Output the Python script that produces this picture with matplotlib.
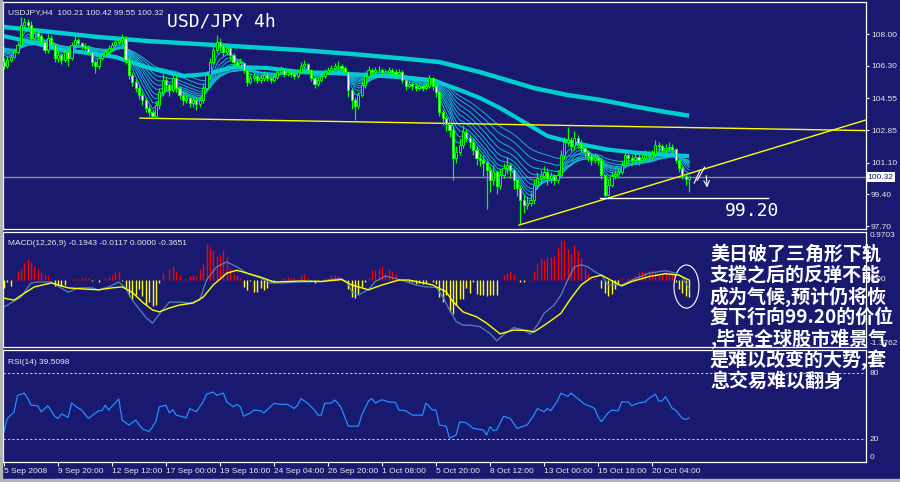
# plot.py
"""
USD/JPY H4 chart in MT4 style: candles with EMA ribbon, MACD and RSI panels.
"""

import numpy as np
import pandas as pd
import matplotlib
matplotlib.use("Agg")
import matplotlib.pyplot as plt
from matplotlib.patches import Ellipse, Rectangle
from matplotlib.transforms import blended_transform_factory

# ---- 4h bars, 5 Sep 2008 08:00 ... 22 Oct 2008 ----
open_first = 106.50
close = [
    106.28, 106.61, 106.77, 107.03, 107.41, 108.48, 108.64, 108.48, 107.79, 108.05, 107.89, 107.57,
    107.14, 107.79, 107.41, 106.71, 106.87, 106.61, 107.03, 106.71, 107.41, 107.68, 107.52, 107.36,
    107.25, 107.03, 106.50, 106.28, 106.71, 106.87, 107.03, 107.25, 107.41, 107.57, 107.68, 107.79,
    106.61, 105.80, 105.42, 105.10, 104.73, 104.46, 104.03, 103.82, 103.60, 104.19, 104.89, 105.53,
    105.26, 105.00, 105.64, 105.10, 104.73, 104.46, 104.57, 104.30, 104.46, 104.24, 104.46, 105.10,
    105.80, 106.50, 107.14, 107.57, 107.36, 107.03, 107.25, 106.87, 106.50, 106.34, 106.44, 106.07,
    105.42, 105.64, 105.75, 105.53, 105.64, 105.80, 105.64, 105.53, 105.69, 105.96, 106.07, 105.85,
    105.96, 105.85, 105.75, 105.96, 106.28, 106.39, 106.07, 105.64, 105.32, 105.53, 105.75, 105.96,
    106.07, 106.18, 106.28, 106.28, 106.18, 105.96, 105.00, 104.46, 104.14, 104.73, 105.26, 105.75,
    106.07, 105.96, 106.07, 106.07, 105.96, 105.96, 106.07, 105.96, 105.85, 105.96, 105.53, 105.21,
    105.32, 105.21, 105.10, 105.21, 105.10, 105.21, 105.64, 105.21, 104.89, 103.82, 103.49, 103.17,
    102.85, 101.35, 101.67, 102.04, 102.74, 102.42, 102.20, 101.78, 101.35, 101.24, 101.08, 100.70,
    100.17, 100.60, 99.85, 100.44, 100.81, 100.97, 100.70, 100.17, 99.74, 99.09, 98.83, 98.93,
    99.09, 99.90, 100.28, 100.38, 100.60, 100.28, 100.38, 100.17, 100.44, 101.51, 102.20, 102.31,
    101.99, 102.42, 102.15, 101.88, 101.67, 101.45, 101.24, 101.35, 101.24, 100.44, 99.36, 99.90,
    100.38, 100.49, 100.60, 100.97, 101.51, 101.35, 101.24, 101.40, 101.24, 101.35, 101.51, 101.45,
    101.56, 102.04, 101.99, 101.78, 101.88, 101.94, 101.83, 101.24, 100.81, 100.38, 100.21, 100.32,
]
high = [
    106.7, 106.8, 106.95, 107.2, 107.6, 108.9, 108.85, 108.8, 108.7, 108.3, 108.2, 108.0,
    107.7, 108.0, 107.95, 107.5, 107.1, 107.0, 107.2, 107.1, 107.6, 107.9, 107.8, 107.6,
    107.5, 107.4, 107.1, 106.6, 106.9, 107.0, 107.2, 107.4, 107.55, 107.7, 107.85, 108.0,
    107.9, 106.8, 105.95, 105.6, 105.3, 104.9, 104.6, 104.2, 104.0, 104.4, 105.1, 105.9,
    105.7, 105.4, 105.9, 105.8, 105.2, 104.9, 104.8, 104.7, 104.6, 104.6, 104.7, 105.3,
    106.0, 106.7, 107.4, 107.95, 107.8, 107.5, 107.5, 107.3, 107.0, 106.6, 106.7, 106.5,
    106.3, 105.8, 105.9, 105.85, 105.8, 106.0, 105.9, 105.75, 105.85, 106.15, 106.3, 106.15,
    106.1, 106.05, 105.95, 106.1, 106.5, 106.6, 106.45, 106.15, 105.75, 105.7, 105.9, 106.1,
    106.25, 106.35, 106.45, 106.55, 106.4, 106.3, 106.0, 105.1, 104.6, 104.9, 105.5, 106.0,
    106.3, 106.2, 106.25, 106.3, 106.2, 106.15, 106.25, 106.2, 106.1, 106.15, 106.05, 105.6,
    105.5, 105.45, 105.35, 105.4, 105.3, 105.4, 105.8, 105.7, 105.3, 104.95, 104.0, 103.6,
    103.3, 103.1, 102.0, 102.4, 103.1, 102.9, 102.6, 102.4, 102.0, 101.6, 101.5, 101.2,
    100.9, 101.0, 100.7, 100.8, 101.1, 101.4, 101.1, 100.8, 100.3, 99.9, 99.4, 99.3,
    99.5, 100.2, 100.6, 100.7, 100.9, 100.8, 100.6, 100.5, 100.7, 101.8, 102.5, 103.0,
    102.5, 102.8, 102.6, 102.3, 102.0, 101.8, 101.6, 101.6, 101.5, 101.4, 100.5, 100.2,
    100.6, 100.7, 100.8, 101.2, 101.7, 101.6, 101.5, 101.6, 101.55, 101.6, 101.8, 101.7,
    101.8, 102.3, 102.2, 102.1, 102.1, 102.2, 102.1, 101.9, 101.3, 100.9, 100.5, 100.42,
]
low = [
    106.1, 106.2, 106.5, 106.7, 106.95, 107.3, 108.3, 108.3, 107.6, 107.7, 107.7, 107.4,
    107.0, 107.0, 107.2, 106.5, 106.5, 106.4, 106.5, 106.3, 106.6, 107.3, 107.4, 107.2,
    107.1, 106.9, 106.3, 105.9, 106.1, 106.6, 106.8, 106.9, 107.1, 107.3, 107.45, 107.5,
    106.4, 105.6, 105.2, 104.9, 104.5, 104.2, 103.8, 103.6, 103.45, 103.5, 104.0, 104.7,
    105.0, 104.7, 104.9, 104.9, 104.5, 104.2, 104.3, 104.1, 104.1, 103.9, 104.1, 104.3,
    105.0, 105.6, 106.4, 107.0, 107.1, 106.8, 106.9, 106.6, 106.3, 106.1, 106.2, 105.9,
    105.2, 105.3, 105.5, 105.4, 105.4, 105.5, 105.5, 105.35, 105.45, 105.6, 105.9, 105.7,
    105.75, 105.7, 105.6, 105.65, 105.9, 106.2, 105.9, 105.5, 105.1, 105.2, 105.45, 105.65,
    105.85, 105.95, 106.05, 106.1, 106.0, 105.8, 104.6, 104.0, 103.4, 104.0, 104.6, 105.1,
    105.6, 105.8, 105.85, 105.9, 105.8, 105.8, 105.85, 105.8, 105.7, 105.75, 105.35, 105.0,
    105.1, 105.0, 104.95, 105.0, 104.95, 105.0, 105.1, 105.0, 104.6, 103.6, 103.1, 102.8,
    102.5, 100.17, 101.1, 101.5, 101.9, 102.2, 101.9, 101.5, 101.0, 100.9, 100.4, 98.6,
    99.5, 99.9, 99.4, 99.7, 100.3, 100.5, 100.3, 99.7, 99.3, 97.8, 98.4, 98.6,
    98.8, 98.9, 99.7, 100.0, 100.2, 99.9, 100.0, 99.9, 100.0, 100.3, 101.3, 102.0,
    101.7, 101.8, 101.9, 101.6, 101.4, 101.2, 101.0, 101.1, 101.0, 100.2, 99.25, 99.3,
    99.8, 100.2, 100.3, 100.5, 100.9, 101.1, 101.0, 101.1, 101.0, 101.1, 101.2, 101.2,
    101.3, 101.4, 101.7, 101.6, 101.6, 101.7, 101.6, 101.1, 100.6, 100.2, 99.9, 99.55,
]

# slow and medium moving averages
slow_ma_bar = [0, 14, 28, 43, 58, 73, 88, 103, 117, 129, 135, 141, 147, 157, 167, 177, 186, 196, 203]
slow_ma = [108.38, 108.11, 107.84, 107.62, 107.46, 107.30, 107.14, 106.93, 106.71, 106.50,
           106.23, 105.96, 105.64, 105.10, 104.73, 104.46, 104.14, 103.82, 103.62]
mid_ma_bar = [0, 8, 17, 23, 33, 43, 53, 60, 68, 78, 88, 97, 108, 117, 127, 135, 141, 147,
              153, 161, 169, 179, 188, 203]
mid_ma = [107.89, 107.57, 107.14, 107.03, 106.77, 106.18, 105.75, 105.85, 106.23, 106.18,
          105.96, 105.91, 105.80, 105.69, 105.53, 105.00, 104.57, 104.03, 103.39, 102.53,
          102.15, 101.80, 101.62, 101.45]
ribbon_start = 107.3
ribbon_periods = [4, 6, 8, 10, 13, 16, 20, 25, 32, 40]

# hand-drawn trend lines
flat_line_bar = [40.3, 255.4]
flat_line = [103.49, 102.82]
rise_line_bar = [152.6, 255.4]
rise_line = [97.75, 103.39]
target_bar = [176.6, 226.4]
target = 99.20

price_ticks = [108.00, 106.30, 104.55, 102.85, 101.10, 99.40, 97.70]

# MACD(12,26,9): histogram per bar, lines read at break points
macd_hist = [
    -0.17, -0.04, -0.13, 0.02, 0.18, 0.22, 0.34, 0.41, 0.36, 0.28, 0.22, 0.15, 0.10, 0.09, 0.02, -0.13,
    -0.11, -0.13, -0.11, 0.0, 0.02, 0.02, 0.02, 0.03, 0.03, 0.04, -0.03, 0.02, -0.04, 0.0, 0.04, 0.06,
    0.09, 0.15, 0.18, -0.02, -0.2, -0.34, -0.4, -0.31, -0.2, -0.34, -0.51, -0.45, -0.53, -0.51, -0.07, 0.13,
    0.0, 0.22, 0.27, 0.18, 0.09, 0.0, 0.02, 0.07, 0.09, 0.07, 0.22, 0.32, 0.73, 0.66, 0.6, 0.49,
    0.5, 0.6, 0.46, 0.24, 0.12, 0.09, 0.03, -0.15, -0.22, -0.02, -0.25, -0.25, -0.18, -0.22, -0.18, -0.05,
    -0.04, 0.0, 0.02, 0.04, 0.05, 0.03, 0.04, 0.02,
    0.09, 0.11, 0.04, -0.02, -0.07, -0.03, 0.0, 0.03, 0.04, 0.09, 0.09, 0.07, 0.02, -0.03, -0.2, -0.36,
    -0.37, -0.29, -0.16, -0.05, 0.04, 0.2, 0.2, 0.24, 0.27, 0.13, 0.22, 0.18, 0.12, 0.02, 0.0, -0.03,
    -0.06, -0.04, -0.09, -0.07, -0.09, -0.07, 0.0, -0.05, -0.09, -0.36, -0.45, -0.31, -0.67, -0.71, -0.51, -0.4,
    -0.4, -0.18, -0.27, -0.04, -0.29, -0.31, -0.31, -0.33, -0.31, -0.31, -0.31, 0.0, 0.09, 0.13, 0.18, 0.11,
    0.0, -0.04, -0.04, 0.0, 0.02, 0.18, 0.33, 0.43, 0.4, 0.45, 0.45, 0.48, 0.66, 0.8, 0.8, 0.62,
    0.53, 0.71, 0.6, 0.43, 0.25, 0.12, 0.04, 0.04, 0.0, -0.18, -0.27, -0.33, -0.29, -0.2, -0.07, 0.03,
    0.0, 0.04, 0.04, 0.09, 0.15, 0.18, 0.15, 0.18, 0.2, 0.18, 0.09, 0.12, 0.15, 0.12, 0.09, -0.04,
    -0.2, -0.27, -0.33, -0.3651,
]
macd_bar = [0, 5, 8, 10, 14, 19, 22, 26, 28, 31, 34, 36, 38, 42, 44, 47, 49, 52, 55, 58,
            60, 63, 66, 69, 72, 76, 79, 82, 88, 94, 97, 100, 102, 103, 105, 108, 110, 113, 116, 119,
            122, 125, 128, 130, 132, 134, 136, 138, 141, 144, 146, 148, 151, 154, 156, 158, 160, 163, 165, 167,
            169, 171, 173, 175, 177, 179, 183, 186, 191, 196, 199, 201, 203]
macd_val = [-0.56, -0.36, -0.07, -0.05, -0.05, -0.26, -0.17, -0.17, -0.21, -0.15,
            -0.05, -0.17, -0.42, -0.77, -0.89, -0.62, -0.46, -0.46, -0.48, -0.42,
            -0.01, 0.26, 0.36, 0.26, 0.13, 0.03, -0.07, -0.07, -0.05, -0.04,
            0.0, 0.02, -0.08, -0.25, -0.32, -0.2, -0.04, 0.07, 0.02, -0.04,
            -0.11, -0.15, -0.16, -0.35, -0.62, -0.86, -0.93, -0.93, -0.96, -1.1,
            -1.25, -1.13, -0.98, -1.03, -1.11, -0.93, -0.69, -0.52, -0.32, -0.01,
            0.26, 0.3, 0.26, 0.16, 0.09, -0.11, -0.11, -0.01, 0.13, 0.18,
            0.13, 0.05, -0.1943]
sig_bar = [0, 3, 6, 9, 14, 19, 23, 28, 32, 35, 38, 41, 44, 46, 49, 52, 56, 59, 62, 66,
           69, 72, 76, 80, 88, 94, 100, 103, 108, 112, 117, 120, 127, 131, 133, 136, 140, 143, 147, 151,
           155, 157, 161, 165, 168, 171, 174, 177, 183, 186, 191, 196, 200, 202, 203]
sig_val = [-0.38, -0.42, -0.28, -0.15, -0.07, -0.17, -0.19, -0.21, -0.17, -0.15,
           -0.26, -0.46, -0.62, -0.66, -0.58, -0.52, -0.48, -0.36, -0.11, 0.13,
           0.19, 0.13, 0.05, -0.05, -0.03, -0.04, 0.0, -0.11, -0.21, -0.11,
           -0.01, -0.01, -0.11, -0.25, -0.45, -0.66, -0.76, -0.89, -1.11, -1.03,
           -1.04, -1.07, -0.89, -0.69, -0.38, -0.11, 0.04, 0.09, -0.13, -0.04,
           0.06, 0.12, 0.09, 0.02, -0.0117]
macd_top, macd_bottom = 0.9703, -1.3762

# RSI(14)
rsi_bar = [0, 1, 3, 4, 6, 7, 8, 10, 11, 13, 15, 16,
           17, 19, 20, 22, 23, 25, 28, 29, 30, 31, 34, 35,
           37, 39, 41, 43, 45, 46, 48, 49, 50, 51, 54, 55,
           57, 59, 60, 62, 63, 65, 66, 68, 69, 70, 71, 73,
           74, 76, 77, 80, 82, 84, 86, 87, 88, 90, 92, 93,
           94, 95, 97, 98, 99, 100, 102, 105, 106, 108, 109, 110,
           112, 114, 116, 117, 119, 121, 124, 125, 127, 128, 129, 131,
           132, 134, 135, 137, 139, 142, 143, 144, 145, 146, 148, 150,
           152, 154, 155, 157, 158, 160, 161, 162, 164, 165, 167, 168,
           170, 172, 174, 175, 176, 177, 179, 180, 182, 183, 185, 186,
           188, 190, 191, 193, 194, 195, 196, 198, 199, 201, 202, 203]
rsi_val = [27, 39, 45, 60, 62, 57.5, 51, 50.5, 45, 50.5, 41, 39,
           43, 40, 53, 48.5, 46.6, 39, 46, 46, 51, 46.6, 56.6, 37.5,
           33, 37.5, 29.4, 27, 36, 49.6, 51, 44, 47, 42, 39.6, 48,
           45, 54, 61, 63, 60, 62, 54, 49.6, 51.8, 49.6, 41, 44,
           46.6, 46, 44, 52.7, 51.8, 51.8, 48, 51, 57, 52.7, 46.6, 42,
           42, 52.7, 53, 55.7, 52.7, 48, 32, 32, 42, 55, 57, 53,
           56, 54, 53.6, 46.6, 46, 42, 42, 53, 46.6, 46.6, 33, 32,
           21, 24, 36, 35, 30, 28.5, 24, 31.5, 27.8, 28.5, 41, 39,
           30, 32, 33, 42, 48, 45, 48, 46, 55, 62, 59, 62,
           57, 52, 49.6, 48, 40.5, 36, 44, 46.6, 46, 54, 54, 50.5,
           53, 54, 57, 61, 54.8, 55, 58.7, 48, 46.6, 39, 38, 39.5098]

time_tick_bar = [0, 16, 32, 48, 64, 80, 96, 112, 128, 144, 160, 176, 192]
time_tick_labels = ['5 Sep 2008', '9 Sep 20:00', '12 Sep 12:00', '17 Sep 00:00', '19 Sep 16:00',
                    '24 Sep 04:00', '26 Sep 20:00', '1 Oct 08:00', '5 Oct 20:00', '8 Oct 12:00',
                    '13 Oct 00:00', '15 Oct 16:00', '20 Oct 04:00']

note_lines = ['美日破了三角形下轨', '支撑之后的反弹不能', '成为气候,预计仍将恢',
              '复下行向99.20的价位', ',毕竟全球股市难景气', '是难以改变的大势,套',
              '息交易难以翻身']


def main():
    BG = '#191970'
    LIME = '#00ff00'
    CYAN = '#00ced1'
    TXT = '#e8e8e8'
    plt.rcParams['font.family'] = ['Liberation Sans', 'DejaVu Sans']

    W, H = 900, 482
    fig = plt.figure(figsize=(W / 100, H / 100), dpi=100, facecolor=BG)

    def rect(top, bottom):  # pixel rows -> figure rect
        return [3 / W, 1 - bottom / H, 863 / W, (bottom - top) / H]

    ax = fig.add_axes(rect(2, 229))
    axm = fig.add_axes(rect(232, 347), sharex=ax)
    axr = fig.add_axes(rect(350, 462), sharex=ax)

    for a in (ax, axm, axr):
        a.set_facecolor(BG)
        for s in a.spines.values():
            s.set_color('white')
            s.set_linewidth(0.9)
        a.tick_params(left=False, labelleft=False, bottom=False, labelbottom=False)
    ax.set_xlim(-0.3, 255.4)

    # ---- price panel ----
    x = np.arange(len(close))
    c = np.array(close)
    o = np.r_[open_first, c[:-1]]
    up = c >= o

    for p in ribbon_periods:
        ema = pd.Series(np.r_[ribbon_start, c]).ewm(span=p, adjust=False).mean().to_numpy()[1:]
        ax.plot(x, ema, color='#17b3d3', lw=0.7, zorder=2)
    ax.plot(mid_ma_bar, mid_ma, color=CYAN, lw=3.0, zorder=2, solid_capstyle='butt')
    ax.plot(slow_ma_bar, slow_ma, color=CYAN, lw=3.2, zorder=2, solid_capstyle='butt')

    ax.vlines(x, low, high, colors=LIME, lw=0.9, zorder=4)
    ax.bar(x, np.abs(c - o), bottom=np.minimum(o, c), width=0.62,
           color=np.where(up, BG, 'white'), edgecolor=LIME, linewidth=0.7, zorder=5)

    ax.axhline(c[-1], color='#8c8c8c', lw=1.0, zorder=1)
    ax.plot(flat_line_bar, flat_line, color='yellow', lw=1.0, zorder=3)
    ax.plot(rise_line_bar, rise_line, color='yellow', lw=1.0, zorder=3)
    ax.plot(target_bar, [target, target], color='white', lw=1.0, zorder=3)
    ax.text(221.6, 98.5, f'{target:.2f}', color='white', family='DejaVu Sans Mono',
            fontsize=13, ha='center', va='center')

    # small hand-drawn strokes and down arrow after the last bar
    ax.plot([204.5, 206.2], [100.0, 100.67], color='white', lw=0.8, zorder=6)
    ax.plot([205.4, 207.6], [100.15, 100.86], color='white', lw=0.8, zorder=6)
    ax.annotate('', xy=(208.4, 99.62), xytext=(208.0, 100.55),
                arrowprops=dict(arrowstyle='->', color='white', lw=0.8))

    ax.set_ylim(97.54, 109.72)
    ax.yaxis.tick_right()
    ax.tick_params(axis='y', right=True, labelright=True, colors='white', labelcolor=TXT,
                   labelsize=6, length=2, width=0.8, pad=1.5)
    ax.set_yticks(price_ticks, [f'{v:.2f}' for v in price_ticks])
    ytr = blended_transform_factory(ax.transAxes, ax.transData)
    ax.text(1.002, c[-1], f'{c[-1]:.2f}', transform=ytr, ha='left', va='center',
            fontsize=6, color=BG, zorder=10,
            bbox=dict(boxstyle='square,pad=0.2', fc='white', ec='none'))

    # ---- MACD panel ----
    hist = np.array(macd_hist)
    axm.vlines(x, 0, hist, colors=np.where(hist >= 0, '#ff0000', '#ffff00'), lw=1.0)
    axm.plot(macd_bar, macd_val, color='#4f86b8', lw=0.9)
    axm.plot(sig_bar, sig_val, color='#ffff00', lw=1.0)
    axm.add_patch(Ellipse((202.2, -0.143), width=7.4, height=0.88, fill=False,
                          ec='white', lw=0.8))
    axm.set_ylim(macd_bottom, macd_top)
    axm.set_yticks([])
    mtr = blended_transform_factory(axm.transAxes, axm.transData)
    axm.text(1.004, macd_top, f'{macd_top:.4f}', transform=mtr, va='top', fontsize=6, color=TXT)
    axm.text(1.004, 0, '0.00', transform=mtr, va='center', fontsize=6, color=TXT)
    axm.text(1.004, macd_bottom, f'{macd_bottom:.4f}', transform=mtr, va='bottom',
             fontsize=6, color=TXT)

    # ---- RSI panel ----
    axr.plot(rsi_bar, rsi_val, color='#1e90ff', lw=0.9)
    for lvl in (80, 20):
        axr.axhline(lvl, color='#c8c8c8', lw=0.8, ls=(0, (2, 2)))
    axr.set_ylim(-0.6, 101.2)
    axr.set_yticks([])
    rtr = blended_transform_factory(axr.transAxes, axr.transData)
    axr.text(1.004, 100, '100', transform=rtr, va='top', fontsize=6, color=TXT)
    axr.text(1.004, 80, '80', transform=rtr, va='center', fontsize=6, color=TXT)
    axr.text(1.004, 20, '20', transform=rtr, va='center', fontsize=6, color=TXT)
    axr.text(1.004, 0, '0', transform=rtr, va='bottom', fontsize=6, color=TXT)

    axr.tick_params(axis='x', bottom=True, labelbottom=True, colors='white', labelcolor=TXT,
                    labelsize=6, length=3, width=0.8, pad=1.5)
    axr.set_xticks(time_tick_bar, time_tick_labels, ha='left')

    # ---- header texts ----
    fig.text(8 / W, 1 - 14.5 / H,
             f'USDJPY,H4  {o[-1]:.2f} {high[-1]:.2f} {low[-1]:.2f} {c[-1]:.2f}',
             fontsize=6, color=TXT, va='baseline')
    fig.text(167 / W, 1 - 27 / H, 'USD/JPY 4h', family='DejaVu Sans Mono', fontsize=13,
             color='white', va='baseline')
    fig.text(8 / W, 1 - 245.5 / H,
             f'MACD(12,26,9) {macd_val[-1]:.4f} {sig_val[-1]:.4f} 0.0000 {hist[-1]:.4f}',
             fontsize=6, color=TXT, va='baseline')
    fig.text(8 / W, 1 - 363.5 / H, f'RSI(14) {rsi_val[-1]:.4f}',
             fontsize=6, color=TXT, va='baseline')

    # Chinese comment on the right
    for k, line in enumerate(note_lines):
        fig.text(710 / W, 1 - (254 + 21.2 * k) / H, line, color='white', fontsize=13.7,
                 weight='bold', family=['Noto Sans CJK SC', 'DejaVu Sans'],
                 ha='left', va='center', zorder=10)

    # window frame strips
    fig.patches.append(Rectangle((0, 0), 2 / W, 1, transform=fig.transFigure,
                                 color='#b4b4b4', zorder=0))
    fig.patches.append(Rectangle((0, 0), 1, 3 / H, transform=fig.transFigure,
                                 color='#b4b4b4', zorder=0))

    fig.savefig('out.png', dpi=100, facecolor=fig.get_facecolor())


if __name__ == "__main__":
    main()
